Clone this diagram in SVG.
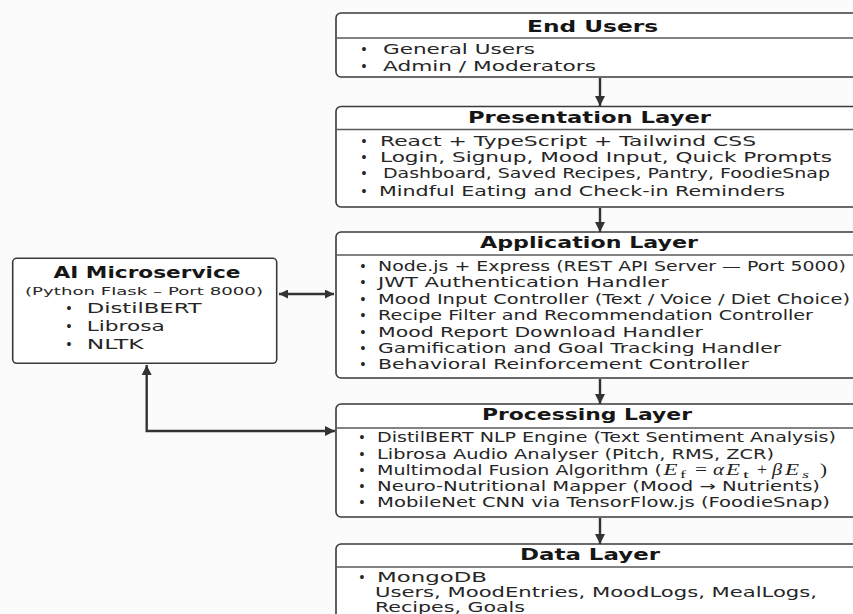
<svg xmlns="http://www.w3.org/2000/svg" width="853" height="614" viewBox="0 0 853 614">
<style>
.box{fill:#ffffff;stroke:#3a3a3a;stroke-width:1.6}
.div{stroke:#5a5a5a;stroke-width:1.3;fill:none}
.t{font-family:"DejaVu Sans",sans-serif;font-weight:bold;font-size:15px;fill:#161616}
.b{font-family:"DejaVu Sans",sans-serif;font-size:13.3px;fill:#262626}
.s{font-family:"DejaVu Sans",sans-serif;font-size:11px;fill:#262626}
.m{font-family:"Liberation Serif",serif;font-size:17px;fill:#222222}
.mi{font-family:"Liberation Serif",serif;font-style:italic;font-size:17px;fill:#222222}
.ms{font-family:"Liberation Serif",serif;font-size:11px;fill:#222222}
.msi{font-family:"Liberation Serif",serif;font-style:italic;font-size:11px;fill:#222222}
.c{fill:none;stroke:#333333;stroke-width:2.4}
</style>
<defs>
<marker id="ah" viewBox="0 0 10 10" markerUnits="userSpaceOnUse" markerWidth="10" markerHeight="12" refX="10" refY="5" orient="auto-start-reverse">
<path d="M0,0 L10,5 L0,10 z" fill="#333333"/>
</marker>
<marker id="as" viewBox="0 0 10 10" markerUnits="userSpaceOnUse" markerWidth="9" markerHeight="9" refX="10" refY="5" orient="auto-start-reverse">
<path d="M0,0 L10,5 L0,10 z" fill="#333333"/>
</marker>
</defs>
<rect x="0" y="0" width="853" height="614" fill="#fbfbfb"/>

<g id="connectors">
<line class="c" x1="600" y1="78" x2="600" y2="106" marker-end="url(#ah)"/>
<line class="c" x1="600" y1="208" x2="600" y2="232" marker-end="url(#ah)"/>
<line class="c" x1="600" y1="379" x2="600" y2="404" marker-end="url(#ah)"/>
<line class="c" x1="600" y1="518" x2="600" y2="544" marker-end="url(#ah)"/>
<line class="c" x1="279" y1="294" x2="334" y2="294" stroke-width="2" marker-start="url(#as)" marker-end="url(#as)"/>
<polyline class="c" points="146.7,365 146.7,431 335,431" marker-start="url(#ah)" marker-end="url(#ah)"/>
</g>

<g id="end-users">
<rect class="box" x="336" y="13" width="540" height="64" rx="5"/>
<line class="div" x1="336" y1="38" x2="876" y2="38"/>
<text class="t" x="527" y="32" textLength="131" lengthAdjust="spacingAndGlyphs">End Users</text>
<text class="b" x="360" y="54">•</text>
<text class="b" x="383" y="54" textLength="152" lengthAdjust="spacingAndGlyphs">General Users</text>
<text class="b" x="360" y="71">•</text>
<text class="b" x="383" y="71" textLength="213" lengthAdjust="spacingAndGlyphs">Admin / Moderators</text>
</g>

<g id="presentation-layer">
<rect class="box" x="336" y="106.5" width="540" height="100.5" rx="5"/>
<line class="div" x1="336" y1="129.5" x2="876" y2="129.5"/>
<text class="t" x="468" y="123" textLength="243" lengthAdjust="spacingAndGlyphs">Presentation Layer</text>
<text class="b" x="360" y="145.5">•</text>
<text class="b" x="380" y="145.5" textLength="376" lengthAdjust="spacingAndGlyphs">React + TypeScript + Tailwind CSS</text>
<text class="b" x="360" y="162">•</text>
<text class="b" x="380" y="162" textLength="452" lengthAdjust="spacingAndGlyphs">Login, Signup, Mood Input, Quick Prompts</text>
<text class="b" x="360" y="178">•</text>
<text class="b" x="383" y="178" font-size="12.5" textLength="447" lengthAdjust="spacingAndGlyphs">Dashboard, Saved Recipes, Pantry, FoodieSnap</text>
<text class="b" x="360" y="195.5">•</text>
<text class="b" x="379" y="195.5" textLength="406" lengthAdjust="spacingAndGlyphs">Mindful Eating and Check-in Reminders</text>
</g>

<g id="application-layer">
<rect class="box" x="336" y="232" width="540" height="146" rx="5"/>
<line class="div" x1="336" y1="255" x2="876" y2="255"/>
<text class="t" x="480" y="248" textLength="218" lengthAdjust="spacingAndGlyphs">Application Layer</text>
<text class="b" x="359" y="270.7">•</text>
<text class="b" x="378" y="270.7" textLength="468" lengthAdjust="spacingAndGlyphs">Node.js + Express (REST API Server — Port 5000)</text>
<text class="b" x="359" y="287.3">•</text>
<text class="b" x="378" y="287.3" textLength="291" lengthAdjust="spacingAndGlyphs">JWT Authentication Handler</text>
<text class="b" x="359" y="304">•</text>
<text class="b" x="378" y="304" textLength="472" lengthAdjust="spacingAndGlyphs">Mood Input Controller (Text / Voice / Diet Choice)</text>
<text class="b" x="359" y="320.3">•</text>
<text class="b" x="378" y="320.3" textLength="435" lengthAdjust="spacingAndGlyphs">Recipe Filter and Recommendation Controller</text>
<text class="b" x="359" y="336.7">•</text>
<text class="b" x="378" y="336.7" textLength="325" lengthAdjust="spacingAndGlyphs">Mood Report Download Handler</text>
<text class="b" x="359" y="353">•</text>
<text class="b" x="378" y="353" textLength="403" lengthAdjust="spacingAndGlyphs">Gamification and Goal Tracking Handler</text>
<text class="b" x="359" y="369.3">•</text>
<text class="b" x="378" y="369.3" textLength="371" lengthAdjust="spacingAndGlyphs">Behavioral Reinforcement Controller</text>
</g>

<g id="processing-layer">
<rect class="box" x="336" y="404" width="540" height="113" rx="5"/>
<line class="div" x1="336" y1="428" x2="876" y2="428"/>
<text class="t" x="482" y="420" textLength="210" lengthAdjust="spacingAndGlyphs">Processing Layer</text>
<text class="b" x="358" y="442">•</text>
<text class="b" x="377" y="442" textLength="459" lengthAdjust="spacingAndGlyphs">DistilBERT NLP Engine (Text Sentiment Analysis)</text>
<text class="b" x="358" y="458.5">•</text>
<text class="b" x="377" y="458.5" textLength="397" lengthAdjust="spacingAndGlyphs">Librosa Audio Analyser (Pitch, RMS, ZCR)</text>
<text class="b" x="358" y="475">•</text>
<text class="b" x="377" y="475" textLength="285" lengthAdjust="spacingAndGlyphs">Multimodal Fusion Algorithm (</text>
<text class="mi" x="663.5" y="475" textLength="14" lengthAdjust="spacingAndGlyphs">E</text>
<text class="ms" x="680" y="478" textLength="6" lengthAdjust="spacingAndGlyphs">f</text>
<text class="m" x="695" y="475" textLength="12" lengthAdjust="spacingAndGlyphs">=</text>
<text class="mi" x="713" y="475" textLength="11" lengthAdjust="spacingAndGlyphs">α</text>
<text class="mi" x="726" y="475" textLength="14" lengthAdjust="spacingAndGlyphs">E</text>
<text class="ms" x="743" y="478" textLength="6" lengthAdjust="spacingAndGlyphs">t</text>
<text class="m" x="757" y="475" textLength="10" lengthAdjust="spacingAndGlyphs">+</text>
<text class="mi" x="772" y="475" textLength="10" lengthAdjust="spacingAndGlyphs">β</text>
<text class="mi" x="785" y="475" textLength="14" lengthAdjust="spacingAndGlyphs">E</text>
<text class="msi" x="802" y="478" textLength="7" lengthAdjust="spacingAndGlyphs">s</text>
<text class="m" x="820" y="475" textLength="7" lengthAdjust="spacingAndGlyphs">)</text>
<text class="b" x="358" y="491">•</text>
<text class="b" x="377" y="491" textLength="443" lengthAdjust="spacingAndGlyphs">Neuro-Nutritional Mapper (Mood → Nutrients)</text>
<text class="b" x="358" y="507">•</text>
<text class="b" x="377" y="507" textLength="453" lengthAdjust="spacingAndGlyphs">MobileNet CNN via TensorFlow.js (FoodieSnap)</text>
</g>

<g id="data-layer">
<rect class="box" x="336" y="544" width="540" height="90" rx="5"/>
<line class="div" x1="336" y1="567" x2="876" y2="567"/>
<text class="t" x="520" y="560" textLength="140" lengthAdjust="spacingAndGlyphs">Data Layer</text>
<text class="b" x="358" y="582">•</text>
<text class="b" x="377" y="582" textLength="110" lengthAdjust="spacingAndGlyphs">MongoDB</text>
<text class="b" x="375" y="597" textLength="442" lengthAdjust="spacingAndGlyphs">Users, MoodEntries, MoodLogs, MealLogs,</text>
<text class="b" x="375" y="611.5" textLength="150" lengthAdjust="spacingAndGlyphs">Recipes, Goals</text>
</g>

<g id="ai-microservice">
<rect class="box" x="12.7" y="258.3" width="264" height="105" rx="4"/>
<text class="t" x="53.5" y="278" font-size="14" textLength="187" lengthAdjust="spacingAndGlyphs">AI Microservice</text>
<text class="s" x="25" y="295" textLength="238" lengthAdjust="spacingAndGlyphs">(Python Flask – Port 8000)</text>
<text class="b" x="65" y="313">•</text>
<text class="b" x="86.7" y="313" textLength="115" lengthAdjust="spacingAndGlyphs">DistilBERT</text>
<text class="b" x="65" y="331">•</text>
<text class="b" x="86.7" y="331" textLength="78" lengthAdjust="spacingAndGlyphs">Librosa</text>
<text class="b" x="65" y="348.5">•</text>
<text class="b" x="86.7" y="348.5" textLength="57" lengthAdjust="spacingAndGlyphs">NLTK</text>
</g>
</svg>
